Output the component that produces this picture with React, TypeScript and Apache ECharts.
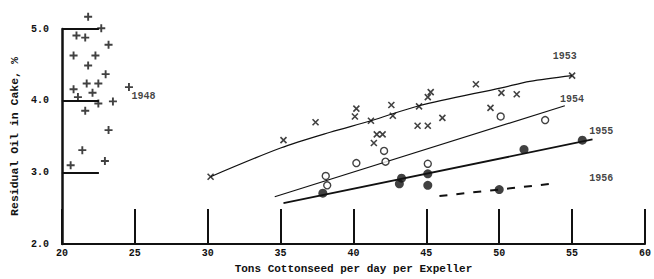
import React, { useEffect, useRef } from "react";
import * as echarts from "echarts";

const xTicks = [20, 25, 30, 35, 40, 45, 50, 55, 60];
const yTicks = [2, 3, 4, 5];

const plus1948: number[][] = [
  [21.8, 5.17], [22.7, 5.01], [21.0, 4.91], [21.6, 4.88], [23.2, 4.78], [20.8, 4.63],
  [22.3, 4.63], [21.8, 4.49], [23.0, 4.37], [21.7, 4.24], [22.5, 4.24], [20.8, 4.16],
  [22.1, 4.11], [21.1, 4.05], [22.5, 3.96], [23.5, 3.99], [21.6, 3.86], [23.2, 3.59],
  [21.4, 3.31], [20.6, 3.10], [22.95, 3.16], [24.6, 4.19],
];

const cross1953: number[][] = [
  [30.2, 2.94], [35.2, 3.45], [37.4, 3.70], [40.2, 3.89], [40.1, 3.78], [41.2, 3.72],
  [42.6, 3.94], [42.7, 3.79], [44.5, 3.92], [45.3, 4.12], [45.1, 4.05], [41.6, 3.53],
  [42.0, 3.53], [41.4, 3.41], [44.4, 3.65], [45.1, 3.65], [46.1, 3.76], [48.4, 4.23],
  [50.15, 4.11], [51.2, 4.09], [49.4, 3.90], [55.0, 4.35],
];
const curve1953: number[][] = [
  [30.2, 2.94], [35.0, 3.34], [38.4, 3.56], [41.2, 3.72], [44.5, 3.93], [50.15, 4.18],
  [52.1, 4.27], [55.0, 4.35],
];

const circle1954: number[][] = [
  [38.1, 2.95], [38.2, 2.82], [40.2, 3.13], [42.1, 3.30], [42.2, 3.15], [45.1, 3.12],
  [50.1, 3.78], [53.15, 3.73],
];
const line1954: number[][] = [[34.6, 2.66], [54.5, 3.93]];

const dot1955: number[][] = [
  [37.9, 2.71], [43.3, 2.92], [43.15, 2.84], [45.1, 2.98], [45.1, 2.82], [51.7, 3.32],
  [55.7, 3.45],
];
const line1955: number[][] = [[35.2, 2.57], [56.4, 3.46]];

const dot1956: number[][] = [[50.0, 2.76]];
const line1956: number[][] = [[45.9, 2.67], [54.0, 2.85]];

const yearLabels: { name: string; value: number[] }[] = [
  { name: "1948", value: [25.6, 4.06] },
  { name: "1953", value: [54.5, 4.61] },
  { name: "1954", value: [55.0, 4.01] },
  { name: "1955", value: [57.0, 3.57] },
  { name: "1956", value: [57.0, 2.92] },
];

const FONT = "Liberation Mono";
const INK = "#111";

export default function App() {
  const ref = useRef<HTMLDivElement>(null);
  useEffect(() => {
    if (!ref.current) return;
    const chart = echarts.init(ref.current, undefined, { renderer: "svg" });
    const lineSeries = (data: number[][], width: number, extra: any = {}) => ({
      type: "line",
      data,
      symbol: "none",
      silent: true,
      lineStyle: { color: INK, width, ...(extra.lineStyle || {}) },
      smooth: extra.smooth || false,
      z: 2,
    });
    chart.setOption({
      animation: false,
      backgroundColor: "#fff",
      grid: { left: 60, right: 8, top: 29, bottom: 29, containLabel: false },
      xAxis: {
        type: "value",
        min: xTicks[0],
        max: xTicks[xTicks.length - 1],
        interval: 5,
        name: "Tons Cottonseed per day per Expeller",
        nameLocation: "middle",
        nameGap: 17,
        nameTextStyle: { fontFamily: FONT, fontSize: 11, fontWeight: "bold", color: INK },
        axisLine: { lineStyle: { color: INK, width: 2 } },
        axisTick: { inside: true, length: 35, lineStyle: { color: INK, width: 2 } },
        axisLabel: { margin: 4, fontFamily: FONT, fontSize: 10, fontWeight: "bold", color: INK },
        splitLine: { show: false },
      },
      yAxis: {
        type: "value",
        min: yTicks[0],
        max: yTicks[yTicks.length - 1],
        interval: 1,
        name: "Residual Oil in Cake, %",
        nameLocation: "middle",
        nameGap: 35,
        nameTextStyle: { fontFamily: FONT, fontSize: 11.5, fontWeight: "bold", color: INK },
        axisLine: { lineStyle: { color: INK, width: 2.5 } },
        axisTick: { inside: true, length: 37, lineStyle: { color: INK, width: 2 } },
        axisLabel: {
          margin: 13,
          fontFamily: FONT,
          fontSize: 10,
          fontWeight: "bold",
          color: INK,
          formatter: (v: number) => v.toFixed(1),
        },
        splitLine: { show: false },
      },
      series: [
        lineSeries(curve1953, 1.2, { smooth: 0.3 }),
        lineSeries(line1954, 1.2),
        lineSeries(line1955, 1.8),
        lineSeries(line1956, 2, { lineStyle: { type: [8, 9] } }),
        {
          type: "scatter",
          data: plus1948,
          clip: false,
          symbol: "path://M5,0L5,10M0,5L10,5",
          symbolSize: 8,
          itemStyle: { color: "transparent", borderColor: INK, borderWidth: 1.9 },
          z: 3,
        },
        {
          type: "scatter",
          data: cross1953,
          clip: false,
          symbol: "path://M0,0L10,10M10,0L0,10",
          symbolSize: 6,
          itemStyle: { color: "transparent", borderColor: INK, borderWidth: 1.6 },
          z: 3,
        },
        {
          type: "scatter",
          data: circle1954,
          clip: false,
          symbol: "circle",
          symbolSize: 7,
          itemStyle: { color: "#fff", borderColor: INK, borderWidth: 1.4 },
          z: 3,
        },
        {
          type: "scatter",
          data: dot1955,
          clip: false,
          symbol: "circle",
          symbolSize: 9,
          itemStyle: { color: INK },
          z: 3,
        },
        {
          type: "scatter",
          data: dot1956,
          clip: false,
          symbol: "circle",
          symbolSize: 9,
          itemStyle: { color: INK },
          z: 3,
        },
        {
          type: "scatter",
          data: yearLabels,
          clip: false,
          symbolSize: 0,
          silent: true,
          label: {
            show: true,
            position: "inside",
            formatter: "{b}",
            fontFamily: FONT,
            fontSize: 10,
            fontWeight: "bold",
            color: INK,
          },
          z: 4,
        },
      ],
    });
    return () => chart.dispose();
  }, []);
  return (
    <div
      ref={ref}
      style={{ position: "fixed", left: 0, top: 0, width: 654, height: 279 }}
    />
  );
}
